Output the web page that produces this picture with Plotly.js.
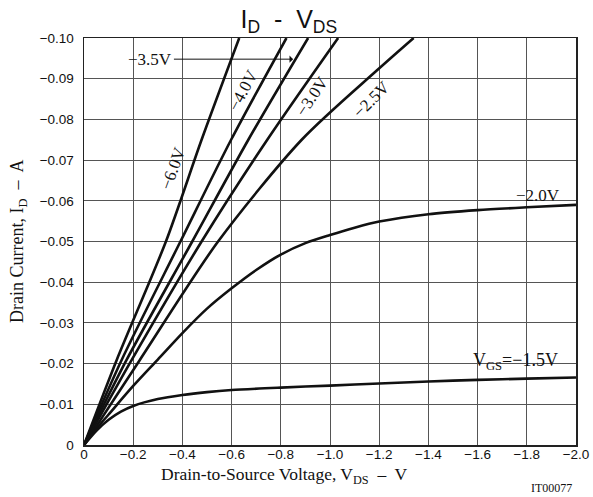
<!DOCTYPE html>
<html>
<head>
<meta charset="utf-8">
<script src="https://cdn.plot.ly/plotly-3.0.1.min.js"></script>
<style>html,body{margin:0;padding:0;background:#fff;}#chart{width:593px;height:497px;}</style>
</head>
<body>
<div id="chart"></div>
<script>
// Drain-to-source voltage (V) and drain current (A) per gate voltage curve
const vds_6_0 = [0, -0.133, -0.333, -0.478, -0.631];
const id_6_0  = [0, -0.0209, -0.05, -0.075, -0.1];
const vds_4_0 = [0, -0.153, -0.392, -0.598, -0.823];
const id_4_0  = [0, -0.0209, -0.05, -0.075, -0.1];
const vds_3_5 = [0, -0.173, -0.44, -0.668, -0.911];
const id_3_5  = [0, -0.0209, -0.05, -0.075, -0.1];
const vds_3_0 = [0, -0.194, -0.478, -0.745, -1.033];
const id_3_0  = [0, -0.0209, -0.05, -0.075, -0.1];
const vds_2_5 = [0, -0.227, -0.545, -0.885, -1.19, -1.34];
const id_2_5  = [0, -0.0209, -0.05, -0.075, -0.092, -0.1];
const vds_2_0 = [0, -0.05, -0.1, -0.2, -0.3, -0.4, -0.5, -0.6, -0.7, -0.8, -0.9, -1.0, -1.1, -1.2, -1.4, -1.6, -1.8, -2.0];
const id_2_0  = [0, -0.004, -0.0075, -0.0145, -0.021, -0.0275, -0.0335, -0.0385, -0.043, -0.0468, -0.0496, -0.0516, -0.0534, -0.0549, -0.0567, -0.0577, -0.0584, -0.059];
const vds_1_5 = [0, -0.05, -0.1, -0.15, -0.2, -0.3, -0.4, -0.5, -0.6, -0.8, -1.0, -1.2, -1.4, -1.6, -1.8, -2.0];
const id_1_5  = [0, -0.0035, -0.0062, -0.0082, -0.0096, -0.0113, -0.0123, -0.013, -0.0135, -0.0141, -0.0146, -0.0151, -0.0156, -0.016, -0.0163, -0.0166];

const xTickVals = [0, -0.2, -0.4, -0.6, -0.8, -1.0, -1.2, -1.4, -1.6, -1.8, -2.0];
const xTickText = ["0", "\u22120.2", "\u22120.4", "\u22120.6", "\u22120.8", "\u22121.0", "\u22121.2", "\u22121.4", "\u22121.6", "\u22121.8", "\u22122.0"];
const yTickVals = [0, -0.01, -0.02, -0.03, -0.04, -0.05, -0.06, -0.07, -0.08, -0.09, -0.10];
const yTickText = ["0", "\u22120.01", "\u22120.02", "\u22120.03", "\u22120.04", "\u22120.05", "\u22120.06", "\u22120.07", "\u22120.08", "\u22120.09", "\u22120.10"];

const curves = [
  [vds_6_0, id_6_0], [vds_4_0, id_4_0], [vds_3_5, id_3_5], [vds_3_0, id_3_0],
  [vds_2_5, id_2_5], [vds_2_0, id_2_0], [vds_1_5, id_1_5]
];
const traces = curves.map(c => ({
  x: c[0], y: c[1], type: 'scatter', mode: 'lines',
  line: {color: '#111', width: 2.6, shape: 'spline', smoothing: 0.8},
  hoverinfo: 'skip', showlegend: false
}));

const serif = 'Liberation Serif, Times New Roman, serif';
const sans = 'Liberation Sans, Arial, sans-serif';
const lab = (x, y, text, angle, size) => ({
  x: x, y: y, xref: 'x', yref: 'y', text: text, showarrow: false,
  textangle: angle, font: {family: serif, size: size || 17, color: '#111'}
});

const layout = {
  width: 593, height: 497,
  margin: {l: 84, r: 17, t: 38, b: 52},
  paper_bgcolor: '#fff', plot_bgcolor: '#fff',
  title: {text: 'I<sub>D</sub>  -  V<sub>DS</sub>', font: {family: sans, size: 25, color: '#111'},
          x: 0.487, xanchor: 'center', y: 0.962, yanchor: 'middle'},
  xaxis: {
    range: [0, -2.0], tickvals: xTickVals, ticktext: xTickText, ticks: '',
    showgrid: true, gridcolor: '#555', gridwidth: 1, zeroline: false,
    showline: true, linecolor: '#222', linewidth: 1.5, mirror: true,
    ticklabelstandoff: -4,
    tickfont: {family: sans, size: 13.5, color: '#111'}
  },
  yaxis: {
    range: [0, -0.10], tickvals: yTickVals, ticktext: yTickText, ticks: '',
    showgrid: true, gridcolor: '#555', gridwidth: 1, zeroline: false,
    showline: true, linecolor: '#222', linewidth: 1.5, mirror: true,
    ticklabelstandoff: 6,
    tickfont: {family: sans, size: 13.5, color: '#111'}
  },
  annotations: [
    {x: 0.408, y: -0.074, xref: 'paper', yref: 'paper', xanchor: 'center', yanchor: 'middle',
     text: 'Drain-to-Source Voltage, V<sub>DS</sub>  \u2013  V', showarrow: false,
     font: {family: serif, size: 17.5, color: '#111'}},
    {x: -0.133, y: 0.5, xref: 'paper', yref: 'paper', xanchor: 'center', yanchor: 'middle', textangle: -90,
     text: 'Drain Current, I<sub>D</sub>  \u2013  A', showarrow: false,
     font: {family: serif, size: 18, color: '#111'}},
    {x: -0.85, y: -0.0948, ax: -0.27, ay: -0.0948, axref: 'x', ayref: 'y', xref: 'x', yref: 'y',
     text: '\u22123.5V', showarrow: true, arrowhead: 1, arrowsize: 1.2, arrowwidth: 1, arrowcolor: '#111',
     font: {family: serif, size: 17, color: '#111'}},
    lab(-0.646, -0.0872, '\u22124.0V', -62),
    lab(-0.926, -0.0857, '\u22123.0V', -56),
    lab(-1.17, -0.0848, '\u22122.5V', -45),
    lab(-0.361, -0.068, '\u22126.0V', -70),
    lab(-1.844, -0.0614, '\u22122.0V', 0),
    lab(-1.755, -0.0204, 'V<sub>GS</sub>=\u22121.5V', 0, 18),
    {x: 0.995, y: -0.083, xref: 'paper', yref: 'paper', xanchor: 'right', yanchor: 'top',
     text: 'IT00077', showarrow: false, font: {family: serif, size: 12, color: '#111'}}
  ]
};

Plotly.newPlot('chart', traces, layout, {displayModeBar: false, staticPlot: true});
</script>
</body>
</html>
